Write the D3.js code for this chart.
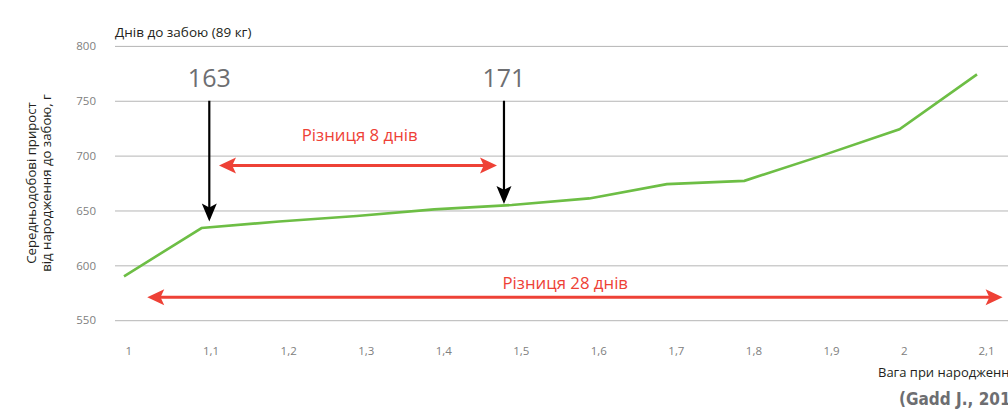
<!DOCTYPE html>
<html>
<head>
<meta charset="utf-8">
<script src="https://cdn.jsdelivr.net/npm/d3@7"></script>
<style>
  html, body { margin: 0; padding: 0; background: #fff; overflow: hidden; }
  svg { display: block; font-family: "Open Sans", "Noto Sans", sans-serif; }
</style>
</head>
<body>
<svg id="chart" width="1008" height="409"></svg>
<script>
// Birth weight (kg) and average daily gain from birth to slaughter (g)
const weights = [1, 1.1, 1.2, 1.3, 1.4, 1.5, 1.6, 1.7, 1.8, 1.9, 2, 2.1];
const weightLabels = ["1", "1,1", "1,2", "1,3", "1,4", "1,5", "1,6", "1,7", "1,8", "1,9", "2", "2,1"];
const dailyGain = [590, 634, 640, 645, 651, 655, 661, 674, 677, 700, 724, 774];
const gainTicks = [550, 600, 650, 700, 750, 800];

// Days to slaughter markers (x position in kg, arrow tip in g)
const markerWeights = [1.11, 1.49];
const markerDays = ["163", "171"];
const markerTips = [640, 656];

// Difference arrows: [x start, x end, y level] in data units
const diffLabels = ["Різниця 8 днів", "Різниця 28 днів"];
const diffSpans = [[1.1225, 1.481, 691], [1.03, 2.133, 571]];
const diffLabelPos = [[1.304, 713], [1.569, 578]];

const svg = d3.select("#chart");
const W = 1008;
const left = 115;

const x = d3.scaleLinear().domain([1, 2.1]).range([124, 977]);
const y = d3.scaleLinear().domain([550, 800]).range([320.2, 45.9]);

const red = "#ee4136";
const green = "#6dbe45";

// Y axis with horizontal grid lines
const yAxis = svg.append("g")
  .attr("transform", `translate(${left},0)`)
  .call(d3.axisLeft(y).tickValues(gainTicks).tickSize(-(W - left)).tickPadding(19));
yAxis.select(".domain").remove();
yAxis.selectAll(".tick line").attr("stroke", "#b5b5b5").attr("stroke-width", 1);
yAxis.selectAll(".tick text").attr("fill", "#808080").attr("font-size", 11.5)
  .attr("font-family", "Open Sans, sans-serif");

// X axis: category labels start at each point
const xAxis = svg.append("g")
  .attr("transform", `translate(0,${y(550)})`)
  .call(d3.axisBottom(x).tickValues(weights)
    .tickFormat((d, i) => weightLabels[i]).tickSize(0).tickPadding(27));
xAxis.select(".domain").remove();
xAxis.selectAll(".tick text").attr("fill", "#808080").attr("font-size", 11.5)
  .attr("font-family", "Open Sans, sans-serif")
  .attr("text-anchor", "start").attr("dx", 1);

// Gain line
const line = d3.line().x((d, i) => x(weights[i])).y(d => y(d));
svg.append("path")
  .datum(dailyGain)
  .attr("d", line)
  .attr("fill", "none")
  .attr("stroke", green)
  .attr("stroke-width", 2.6)
  .attr("stroke-linejoin", "miter");

// Arrow helper: shaft plus notched triangular head(s)
function arrow(x1, y1, x2, y2, color, width, len, half, both) {
  const ang = Math.atan2(y2 - y1, x2 - x1);
  const ux = Math.cos(ang), uy = Math.sin(ang);
  const head = (tx, ty, dx, dy) => {
    const bx = tx - dx * len, by = ty - dy * len;
    const nx = -dy, ny = dx;
    const notch = len * 0.22;
    return `M${tx},${ty}L${bx + nx * half},${by + ny * half}` +
      `L${tx - dx * (len - notch)},${ty - dy * (len - notch)}` +
      `L${bx - nx * half},${by - ny * half}Z`;
  };
  const sx = both ? x1 + ux * len * 0.7 : x1, sy = both ? y1 + uy * len * 0.7 : y1;
  svg.append("line")
    .attr("x1", sx).attr("y1", sy)
    .attr("x2", x2 - ux * len * 0.7).attr("y2", y2 - uy * len * 0.7)
    .attr("stroke", color).attr("stroke-width", width);
  svg.append("path").attr("d", head(x2, y2, ux, uy)).attr("fill", color);
  if (both) svg.append("path").attr("d", head(x1, y1, -ux, -uy)).attr("fill", color);
}

// Days-to-slaughter markers
markerWeights.forEach((w, i) => {
  arrow(x(w), y(750), x(w), y(markerTips[i]), "#000", 2.2, 18, 7.5, false);
  svg.append("text")
    .attr("x", x(w)).attr("y", 87)
    .attr("text-anchor", "middle")
    .attr("font-size", 25)
    .attr("fill", "#6d6e71")
    .text(markerDays[i]);
});

// Difference arrows and labels
diffSpans.forEach((s, i) => {
  arrow(x(s[0]), y(s[2]), x(s[1]), y(s[2]), red, 3, 17, 8, true);
  svg.append("text")
    .attr("x", x(diffLabelPos[i][0])).attr("y", y(diffLabelPos[i][1]))
    .attr("text-anchor", "middle")
    .attr("font-size", 16.8)
    .attr("fill", red)
    .text(diffLabels[i]);
});

// Titles
svg.append("text")
  .attr("x", left).attr("y", 37)
  .attr("font-size", 13.5).attr("fill", "#231f20")
  .text("Днів до забою (89 кг)");

const yTitle = svg.append("text")
  .attr("transform", `translate(0,183) rotate(-90)`)
  .attr("text-anchor", "middle")
  .attr("font-size", 13.2).attr("fill", "#231f20");
yTitle.append("tspan").attr("x", 0).attr("y", 36).text("Середньодобові прирост");
yTitle.append("tspan").attr("x", 0).attr("y", 51).text("від народження до забою, г");

svg.append("text")
  .attr("x", 878).attr("y", 377)
  .attr("font-size", 13).attr("fill", "#231f20")
  .text("Вага при народженні, кг");

svg.append("text")
  .attr("x", 899).attr("y", 405)
  .attr("font-size", 17).attr("font-weight", "bold")
  .attr("font-family", "'Liberation Sans Narrow', 'DejaVu Sans Condensed', sans-serif")
  .attr("font-stretch", "condensed")
  .attr("fill", "#6d6e71")
  .text("(Gadd J., 2011)");
</script>
</body>
</html>
